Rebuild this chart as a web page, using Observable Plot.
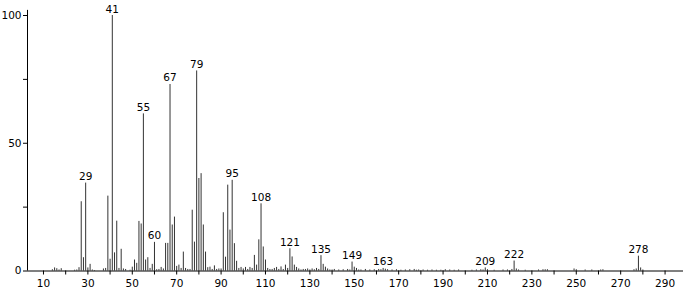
<!DOCTYPE html>
<html>
<head>
<meta charset="utf-8">
<script src="https://cdn.jsdelivr.net/npm/d3@7"></script>
<script src="https://cdn.jsdelivr.net/npm/@observablehq/plot@0.6"></script>
<style>
  html, body { margin: 0; padding: 0; background: #fff; }
  #chart svg { display: block; }
</style>
</head>
<body>
<div id="chart"></div>
<script>
// m/z values and relative intensities (%)
const mz = [14,15,16,17,18,24,25,26,27,28,29,30,31,32,33,37,38,39,40,41,42,43,44,45,46,47,
  49,50,51,52,53,54,55,56,57,58,59,60,61,62,63,64,65,66,67,68,69,70,71,72,73,74,75,76,77,78,79,
  80,81,82,83,84,85,86,87,88,89,90,91,92,93,94,95,96,97,98,99,100,101,102,103,104,105,106,107,
  108,109,110,111,112,113,114,115,116,117,118,119,120,121,122,123,124,125,126,127,128,129,130,
  131,132,133,134,135,136,137,138,139,140,141,143,145,147,148,149,150,151,152,153,155,157,159,
  161,162,163,164,165,167,169,171,173,175,177,178,179,181,183,185,187,189,191,193,195,197,203,
  205,207,208,209,210,213,217,219,221,222,223,224,227,233,235,236,237,249,250,254,257,261,262,
  276,277,278,279,280];
const intensity = [0.5,1.2,0.9,0.4,0.9,0.3,0.4,1.3,27.1,5.2,34.4,1.2,2.6,0.4,0.2,0.8,1.0,29.3,4.6,100,7.1,19.5,1.0,8.5,0.8,0.6,
  0.3,1.5,4.3,3.0,19.4,18.4,61.5,4.3,5.2,1.0,2.6,11.2,0.5,0.6,1.4,0.8,10.8,10.8,73.0,18.0,21.1,1.8,2.3,1.0,7.4,1.0,0.6,0.6,23.8,11.3,78.3,
  36.2,38.1,18.0,7.4,1.3,1.5,0.6,2.0,0.6,0.8,0.8,22.8,5.4,33.6,16.0,35.5,10.7,3.8,1.0,1.4,0.8,1.4,0.6,1.4,1.0,6.1,2.3,12.2,
  26.3,9.4,4.3,1.0,0.6,0.6,1.0,1.4,0.6,1.6,0.6,2.3,1.0,8.7,5.5,2.3,1.4,0.8,0.4,0.6,0.6,0.8,0.4,
  0.8,0.5,1.0,0.6,6.0,2.6,1.5,0.8,0.4,0.4,0.6,0.4,0.5,0.6,0.4,3.5,1.5,1.0,0.4,0.4,0.6,0.4,0.5,
  0.6,0.5,1.0,0.7,0.5,0.4,0.5,0.3,0.4,0.5,0.6,0.3,0.4,0.4,0.3,0.4,0.3,0.3,0.5,0.4,0.3,0.4,0.3,
  0.4,0.5,0.4,1.2,0.5,0.3,0.4,0.4,0.6,3.9,0.8,0.4,0.3,0.4,0.5,0.5,0.5,0.8,0.5,0.4,0.4,0.4,0.5,
  0.5,0.8,5.8,1.2,0.4];
// labelled peaks
const labelledMz = [29,41,55,60,67,79,95,108,121,135,149,163,209,222,278];
// axis ticks and labels
const xTicks = [10,20,30,40,50,60,70,80,90,100,110,120,130,140,150,160,170,180,190,200,210,220,230,240,250,260,270,280,290];
const xTickLabels = [10,30,50,70,90,110,130,150,170,190,210,230,250,270,290];
const yTicks = [0,25,50,75,100];
const yTickLabels = [0,50,100];

const peaks = mz.map((m, i) => ({mz: m, intensity: intensity[i]}));
const labels = peaks.filter(d => labelledMz.includes(d.mz));

const xDomain = [2.8, 298.3];

const chart = Plot.plot({
  width: 683,
  height: 293,
  marginLeft: 27,
  marginRight: 0,
  marginTop: 15,
  marginBottom: 22.5,
  style: {fontFamily: "DejaVu Sans", fontSize: "10.5px", color: "#000", background: "#fff"},
  x: {domain: xDomain},
  y: {domain: [0, 100]},
  marks: [
    Plot.axisX({ticks: xTicks, tickSize: 4, tickPadding: 5,
      tickFormat: d => xTickLabels.includes(d) ? String(d) : "", label: null, stroke: "#000"}),
    Plot.axisY({ticks: yTicks, tickSize: 4, tickPadding: 2,
      tickFormat: d => yTickLabels.includes(d) ? String(d) : "", label: null, stroke: "#000"}),
    Plot.ruleX(peaks, {x: "mz", y1: 0, y2: "intensity", stroke: "#333", strokeWidth: 1}),
    Plot.ruleY([0], {stroke: "#000"}),
    Plot.ruleX([xDomain[0]], {y1: 0, y2: 102, stroke: "#000", clip: false}),
    Plot.text(labels, {x: "mz", y: "intensity", text: d => String(d.mz), dy: -3,
      lineAnchor: "bottom", textAnchor: "middle", fill: "#000", fontSize: 10.5})
  ]
});
document.getElementById("chart").appendChild(chart);
</script>
</body>
</html>
